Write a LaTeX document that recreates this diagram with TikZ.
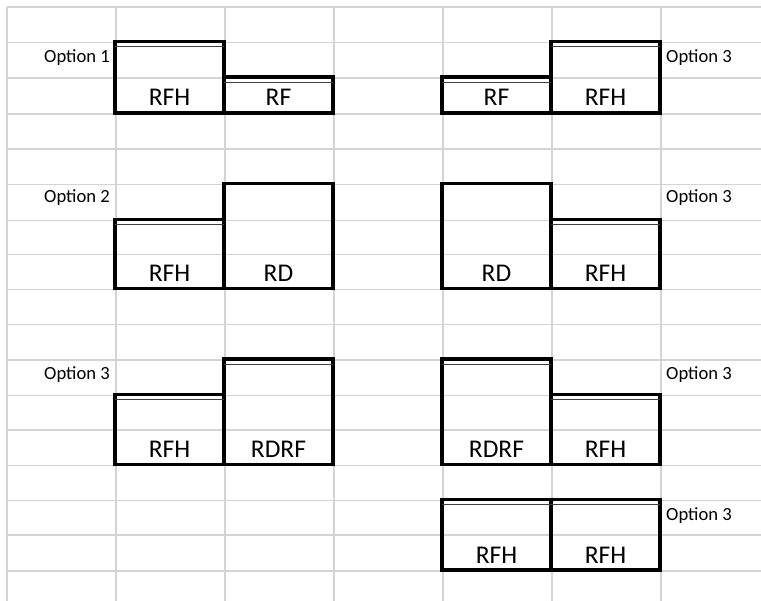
\documentclass[tikz,border=0pt]{standalone}
\usepackage{fontspec}
\setmainfont{Carlito}
\begin{document}
\begin{tikzpicture}[x=1pt,y=-1pt,
  gridline/.style={draw=black!17, line width=1.3pt},
  box/.style={draw=black, line width=3.2pt, outer sep=0pt, inner sep=0pt, anchor=north west, minimum width=109pt},
  dbl/.style={draw=black!75, line width=1pt},
  lbl/.style={font=\fontsize{25.5}{30}\selectfont, anchor=base, inner sep=0pt},
  optl/.style={font=\fontsize{18.6}{22}\selectfont, inner sep=0pt, anchor=base east},
  optr/.style={font=\fontsize{18.6}{22}\selectfont, inner sep=0pt, anchor=base west}]
\useasboundingbox[fill=white] (0,0) rectangle (761,601);
% spreadsheet grid
\foreach \gx in {7,116,225,334,443,552,661} \draw[gridline] (\gx,7) -- (\gx,601);
\foreach \gy in {7,42.5,78,114,149,184.5,220.5,254.5,289.5,324.5,360,395.5,430,465.5,500.5,535,571}
  \draw[gridline] (7,\gy) -- (761,\gy);
% group 1
\node[box, minimum height=71.5pt] (b1) at (115,41.5) {};
\node[box, minimum height=36pt] (b2) at (224,77) {};
\node[box, minimum height=36pt] (b3) at (442,77) {};
\node[box, minimum height=71.5pt] (b4) at (551,41.5) {};
% group 2
\node[box, minimum height=69pt] (b5) at (115,219.5) {};
\node[box, minimum height=105pt] (b6) at (224,183.5) {};
\node[box, minimum height=105pt] (b7) at (442,183.5) {};
\node[box, minimum height=69pt] (b8) at (551,219.5) {};
% group 3
\node[box, minimum height=70pt] (b9) at (115,394.5) {};
\node[box, minimum height=105.5pt] (b10) at (224,359) {};
\node[box, minimum height=105.5pt] (b11) at (442,359) {};
\node[box, minimum height=70pt] (b12) at (551,394.5) {};
% group 4
\node[box, minimum height=70.5pt] (b13) at (442,499.5) {};
\node[box, minimum height=70.5pt] (b14) at (551,499.5) {};
% double top borders
\foreach \b in {b1,b2,b3,b4,b5,b8,b9,b10,b11,b12,b13,b14}
  \draw[dbl] ([yshift=-5.5pt]\b.north west) -- ([yshift=-5.5pt]\b.north east);
% box labels
\node[lbl] (t1) at ([yshift=7pt]b1.south) {RFH};
\node[lbl] (t2) at ([yshift=7pt]b2.south) {RF};
\node[lbl] (t3) at ([yshift=7pt]b3.south) {RF};
\node[lbl] (t4) at ([yshift=7pt]b4.south) {RFH};
\node[lbl] (t5) at ([yshift=7pt]b5.south) {RFH};
\node[lbl] (t6) at ([yshift=7pt]b6.south) {RD};
\node[lbl] (t7) at ([yshift=7pt]b7.south) {RD};
\node[lbl] (t8) at ([yshift=7pt]b8.south) {RFH};
\node[lbl] (t9) at ([yshift=7pt]b9.south) {RFH};
\node[lbl] (t10) at ([yshift=7pt]b10.south) {RDRF};
\node[lbl] (t11) at ([yshift=7pt]b11.south) {RDRF};
\node[lbl] (t12) at ([yshift=7pt]b12.south) {RFH};
\node[lbl] (t13) at ([yshift=7pt]b13.south) {RFH};
\node[lbl] (t14) at ([yshift=7pt]b14.south) {RFH};
% option labels
\node[optl] (o1) at (110,62.5) {Option 1};
\node[optr] (o2) at (666,62.5) {Option 3};
\node[optl] (o3) at (110,203) {Option 2};
\node[optr] (o4) at (666,203) {Option 3};
\node[optl] (o5) at (110,380) {Option 3};
\node[optr] (o6) at (666,380) {Option 3};
\node[optr] (o7) at (666,521) {Option 3};
\end{tikzpicture}
\end{document}
